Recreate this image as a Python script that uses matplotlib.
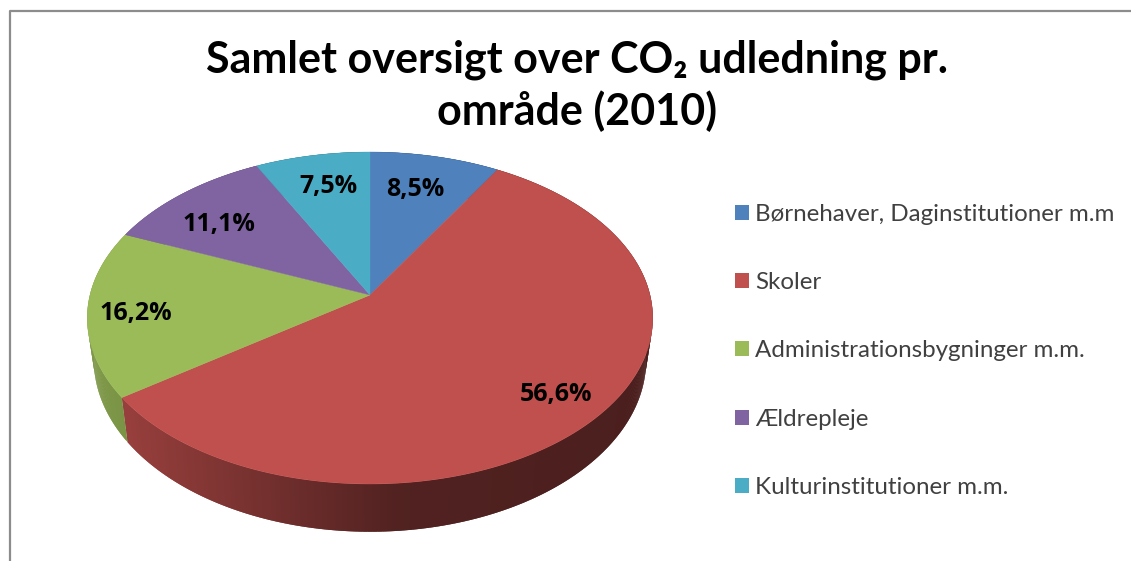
import numpy as np
import matplotlib
matplotlib.use("Agg")
import matplotlib.pyplot as plt
from matplotlib.colors import to_rgb
from matplotlib.patches import Polygon, Patch

plt.rcParams['font.family'] = ['Lato', 'DejaVu Sans']

# data
categories = ["Børnehaver, Daginstitutioner m.m", "Skoler", "Administrationsbygninger m.m.",
              "Ældrepleje", "Kulturinstitutioner m.m."]
shares = [8.5, 56.6, 16.2, 11.1, 7.5]
colors = ["#4F81BD", "#C0504D", "#9BBB59", "#8064A2", "#4BACC6"]
title = "Samlet oversigt over CO₂ udledning pr.\nområde (2010)"

# where the percent labels sit, in pixels
label_xy = [(415, 189), (556, 394), (136, 313), (219, 224), (328, 186)]

# perspective of the top and bottom discs
K = 0.1386
TOP = dict(y0=295, a=280, b=162.8)
BOTTOM = dict(y0=336, a=273.5, b=168.6)
CX = 370


def project(angle, disc):
    # angle is clockwise from 12 o'clock
    u = np.sin(angle)
    v = np.cos(angle)
    w = 1 + K * v
    return CX + disc['a'] * u / w, disc['y0'] - disc['b'] * v / w


def shade(x):
    return np.interp(x, [90, 130, 400, 650], [0.82, 0.78, 0.42, 0.39])


fig = plt.figure(figsize=(11.31, 5.61), dpi=100)
ax = fig.add_axes([0, 0, 1, 1])
ax.set_xlim(0, 1131)
ax.set_ylim(561, 0)
ax.axis('off')

# chart frame
ax.plot([9.5, 9.5, 1131], [561, 11, 11], color="#8c8c8c", lw=1.6)

fractions = np.array(shares) / sum(shares)
edges = np.concatenate([[0], np.cumsum(fractions)]) * 2 * np.pi

# side wall first, in thin overlapping strips so it can carry a gradient
for i, col in enumerate(colors):
    steps = np.linspace(edges[i], edges[i + 1], max(int(fractions[i] * 800), 4))
    xt, yt = project(steps, TOP)
    xb, yb = project(steps, BOTTOM)
    base = np.array(to_rgb(col))
    for j in range(len(steps) - 1):
        k = min(j + 2, len(steps) - 1)
        c = base * shade((xt[j] + xt[j + 1]) / 2)
        quad = [(xt[j], yt[j]), (xt[k], yt[k]), (xb[k], yb[k]), (xb[j], yb[j])]
        ax.add_patch(Polygon(quad, closed=True, fc=c, ec='none', zorder=2))

# top face
for i, col in enumerate(colors):
    steps = np.linspace(edges[i], edges[i + 1], 200)
    xt, yt = project(steps, TOP)
    pts = [(CX, TOP['y0'])] + list(zip(xt, yt))
    ax.add_patch(Polygon(pts, closed=True, fc=col, ec=col, lw=0.3, zorder=3))

for val, (x, y) in zip(shares, label_xy):
    txt = f"{val:.1f}".replace('.', ',') + "%"
    ax.text(x, y, txt, ha='center', va='center', fontsize=18, fontweight='bold',
            family=['Open Sans', 'DejaVu Sans'], color='black', zorder=4)

ax.text(577, 86, title, ha='center', va='center', fontsize=31, fontweight='bold',
        color='black', linespacing=1.3)

handles = [Patch(fc=c, ec='none') for c in colors]
ax.legend(handles, categories, loc='upper left', bbox_to_anchor=(0.650, 0.637), frameon=False,
          fontsize=17.4, labelcolor='#404040', handlelength=0.58, handleheight=0.58,
          handletextpad=0.25, labelspacing=1.96, borderpad=0, borderaxespad=0)

fig.savefig("out.png", dpi=100)
